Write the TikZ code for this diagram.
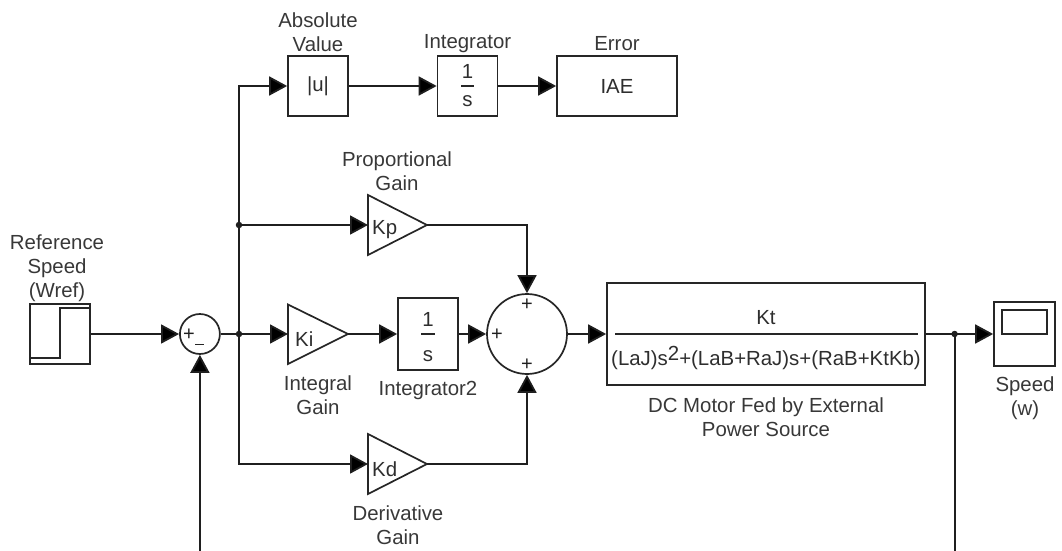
\documentclass[tikz,border=0pt]{standalone}
\usepackage{fontspec}
\setmainfont{Liberation Sans}
\usetikzlibrary{arrows.meta,positioning}
\tikzset{
 x=1pt,y=-1pt,
 blk/.style={draw=black!85,line width=1.7pt,fill=white,minimum width=#1,inner sep=0pt,anchor=center},
 lab/.style={font=\fontsize{20.4}{24}\selectfont,text=black!78,align=center,inner sep=0pt},
 txt/.style={font=\fontsize{20.4}{24}\selectfont,text=black!82,inner sep=0pt},
 wire/.style={draw=black!88,line width=1.8pt},
 arr/.style={wire,-{Triangle[length=18pt,width=19pt,fill=black]}},
 jn/.style={circle,fill=black!88,inner sep=0pt,minimum size=6.5pt},
 tri/.style={draw=black!85,line width=1.7pt,fill=white,line join=miter},
 sg/.style={font=\fontsize{20}{20}\selectfont,inner sep=0pt,text=black!88}
}
\begin{document}
\begin{tikzpicture}
\useasboundingbox (0,0) rectangle (1062,551);
% blocks
\node[blk=60pt,minimum height=60pt] (step) at (60,334) {};
\draw[black!85,line width=1.7pt] (30,358) -- (60,358) -- (60,308) -- (90,308);
\node[blk=40pt,circle,minimum size=40pt] (s1) at (199.9,334) {};
\node[sg] at (189,335) {+};
\draw[black!85,line width=1.7pt] (195,344.5) -- (204,344.5);
\node[blk=60pt,minimum height=60pt,txt] (abs) at (318,86) {|u|};
\node[blk=60pt,minimum height=60pt] (int1) at (467.5,86) {};
\node[txt] at (467.5,71) {1};
\draw[black!85,line width=1.7pt] (461,86) -- (474,86);
\node[txt] at (467.5,101) {s};
\node[blk=120pt,minimum height=60pt,txt] (iae) at (617,86) {IAE};
\draw[tri] (368,195) -- (427,225) -- (368,255) -- cycle;
\coordinate (kpin) at (368,225); \coordinate (kpout) at (427,225);
\node[txt,anchor=west] at (372,230) {Kp};
\draw[tri] (288,304.5) -- (348,334) -- (288,364) -- cycle;
\coordinate (kiin) at (288,334); \coordinate (kiout) at (348,334);
\node[txt,anchor=west] at (295,339) {Ki};
\draw[tri] (368,434) -- (427,464) -- (368,494) -- cycle;
\coordinate (kdin) at (368,464); \coordinate (kdout) at (427,464);
\node[txt,anchor=west] at (372,469) {Kd};
\node[blk=60pt,minimum height=72pt] (int2) at (428,334) {};
\node[txt] at (428,319) {1};
\draw[black!85,line width=1.7pt] (421,334) -- (435,334);
\node[txt] at (428,356) {s};
\node[blk=80pt,circle,minimum size=80pt] (s2) at (527,334) {};
\node[sg] at (527,304.5) {+};
\node[sg] at (497,334.5) {+};
\node[sg] at (527,364.5) {+};
\node[blk=318pt,minimum height=102pt] (mot) at (766,334) {};
\node[txt] at (766,318) {Kt};
\draw[black!85,line width=1.7pt] (615,334) -- (918,334);
\node[txt] at (766,358) {(LaJ)s\raisebox{5pt}{2}+(LaB+RaJ)s+(RaB+KtKb)};
\node[blk=61pt,minimum height=64pt] (sc) at (1024.5,334) {};
\draw[black!85,line width=1.7pt] (1002,310) rectangle (1047,334);
% wires
\coordinate (j1) at (239,334);
\coordinate (j2) at (239,225);
\coordinate (j3) at (954.6,334);
\coordinate (fb1) at (954.6,551);
\coordinate (fb2) at (199.9,551);
\draw[arr] (step.east) -- (s1.west);
\draw[wire] (s1.east) -- (j1);
\draw[arr] (j1) -- (kiin);
\draw[arr] (kiout) -- (int2.west);
\draw[arr] (int2.east) -- (s2.west);
\draw[arr] (s2.east) -- (mot.west);
\draw[arr] (mot.east) -- (sc.west);
\draw[arr] (j1) |- (abs.west);
\draw[arr] (abs.east) -- (int1.west);
\draw[arr] (int1.east) -- (iae.west);
\draw[arr] (j2) -- (kpin);
\draw[arr] (kpout) -| (s2.north);
\draw[arr] (j1) |- (kdin);
\draw[arr] (kdout) -| (s2.south);
\draw[wire] (j3) -- (fb1);
\draw[arr] (fb2) -- (s1.south);
\node[jn] at (j1) {};
\node[jn] at (j2) {};
\node[jn] at (j3) {};
% labels
\node[lab] at (57,268) {Reference\\Speed\\(Wref)};
\node[lab] at (318,32) {Absolute\\Value};
\node[lab] at (467.5,44) {Integrator};
\node[lab] at (617,44) {Error};
\node[lab] at (397,171) {Proportional\\Gain};
\node[lab] at (318,395) {Integral\\Gain};
\node[lab] at (428,390) {Integrator2};
\node[lab] at (398,525) {Derivative\\Gain};
\node[lab] at (766,417) {DC Motor Fed by External\\Power Source};
\node[lab] at (1025,398) {Speed\\(w)};
\end{tikzpicture}
\end{document}
